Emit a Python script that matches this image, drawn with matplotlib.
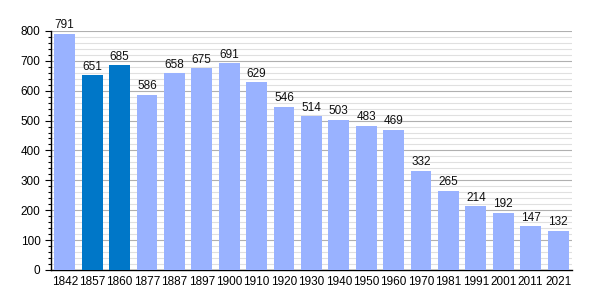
import matplotlib
matplotlib.use("Agg")
import matplotlib.pyplot as plt
from matplotlib.ticker import MultipleLocator

plt.rcParams["font.family"] = ["Liberation Sans", "DejaVu Sans"]

years = ["1842", "1857", "1860", "1877", "1887", "1897", "1900", "1910", "1920", "1930",
         "1940", "1950", "1960", "1970", "1981", "1991", "2001", "2011", "2021"]
population = [791, 651, 685, 586, 658, 675, 691, 629, 546, 514,
              503, 483, 469, 332, 265, 214, 192, 147, 132]
highlight = ["1857", "1860"]

light = "#99b2ff"
dark = "#0077c8"

fig = plt.figure(figsize=(6, 3), dpi=100)
ax = fig.add_axes([0.085, 0.1, 0.868, 0.797])

x = list(range(len(years)))
colors = [dark if y in highlight else light for y in years]
ax.bar(x, population, width=0.76, color=colors, zorder=3)
for xi, v in zip(x, population):
    ax.text(xi, v + 8, str(v), ha="center", va="bottom", fontsize=8.5, color="#111111", zorder=4)

ax.set_xlim(-0.5, len(years) - 0.5)
ax.set_ylim(0, 800)
ax.set_xticks(x)
ax.set_xticklabels(years, fontsize=8.5)
ax.yaxis.set_major_locator(MultipleLocator(100))
ax.yaxis.set_minor_locator(MultipleLocator(20))
ax.tick_params(axis="y", which="major", labelsize=8.5, length=4, width=0.8)
ax.tick_params(axis="y", which="minor", length=2, width=0.8)
ax.tick_params(axis="x", length=0, pad=4)
ax.grid(axis="y", which="major", color="#b0b0b0", linewidth=0.8, zorder=0)
ax.grid(axis="y", which="minor", color="#e0e0e0", linewidth=0.8, zorder=0)
for s in ["top", "right"]:
    ax.spines[s].set_visible(False)
ax.spines["left"].set_linewidth(1.0)
ax.spines["bottom"].set_linewidth(1.0)

fig.savefig("out.png", dpi=100)
